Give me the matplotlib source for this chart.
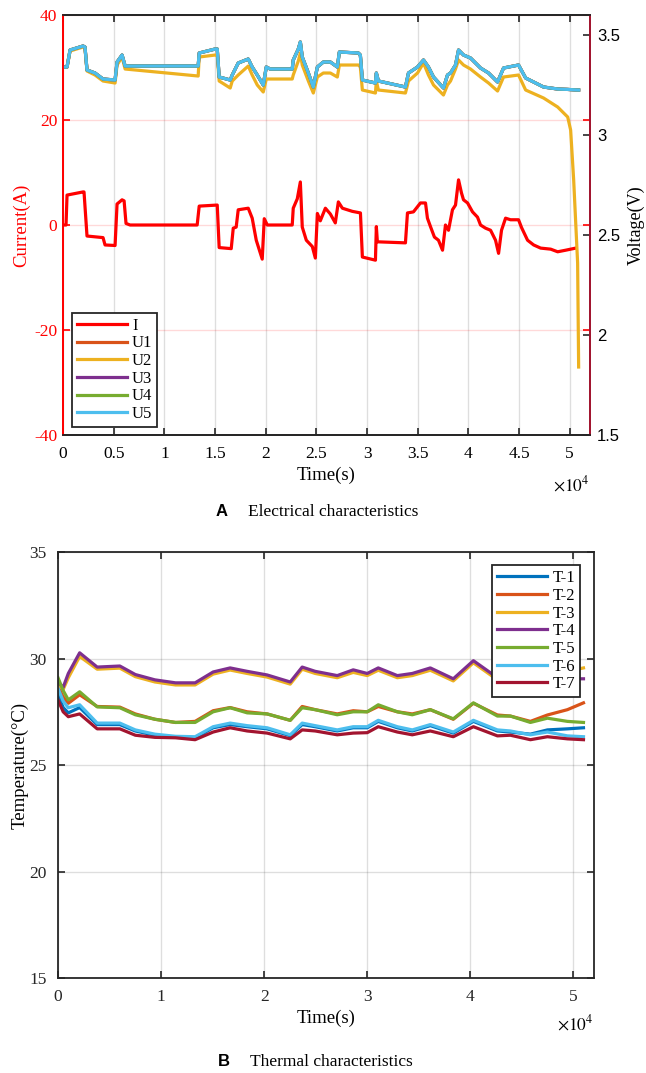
import matplotlib
matplotlib.use('Agg')
import matplotlib.pyplot as plt
from matplotlib.ticker import FuncFormatter

plt.rcParams['font.family'] = ['Liberation Serif', 'DejaVu Serif']
plt.rcParams['mathtext.fontset'] = 'stix'
plt.rcParams['axes.unicode_minus'] = False

# ---------------- data: electrical ----------------
t_I = [0, 300, 400, 1190, 1980, 2075, 2370, 3950, 4150, 5140,
       5335, 5830, 6030, 6220, 6620, 13240, 13440, 15220, 15410, 16600,
       16800, 17090, 17290, 18280, 18670, 19070, 19660, 19860, 20160, 22620,
       22720, 23120, 23420, 23610, 24010, 24600, 24900, 25100, 25390, 25890,
       26380, 26870, 27170, 27570, 28550, 29350, 29540, 30830, 30920, 31020,
       33790, 33990, 34580, 35270, 35770, 35960, 36260, 36650, 37050, 37450,
       37740, 38040, 38430, 38730, 39030, 39320, 39520, 39920, 40410, 40900,
       41200, 41690, 42190, 42680, 42980, 43270, 43670, 44160, 44950, 45250,
       45840, 46440, 47130, 48120, 48810, 49600, 50590]
I = [0, 0, 5.7, 6.0, 6.3, 6.3, -2.1, -2.4, -3.8, -3.9,
     4.0, 4.8, 4.6, 0.3, 0, 0, 3.6, 3.8, -4.3, -4.5,
     -0.6, -0.4, 2.9, 3.2, 1.3, -2.9, -6.5, 1.2, 0, 0,
     3.2, 5.0, 8.2, -0.4, -2.9, -4.1, -6.3, 2.2, 0.8, 3.2,
     2.1, 0.4, 4.4, 3.2, 2.6, 2.3, -6.1, -6.7, -0.3, -3.2,
     -3.4, 2.3, 2.5, 4.2, 4.2, 1.3, -0.3, -2.3, -2.9, -4.8,
     0, -1, 2.9, 3.8, 8.6, 6.1, 4.8, 4.2, 2.5, 1.5,
     0, -0.6, -1, -2.9, -5.4, -1, 1.3, 1.0, 1.0, -0.5,
     -2.9, -3.8, -4.4, -4.6, -5.1, -4.8, -4.4]

t_U = [0, 400, 700, 1980, 2170, 2370, 3160, 3950, 5140, 5335,
       5830, 6130, 13340, 13440, 15020, 15220, 15410, 16500, 16700, 17290,
       18280, 18670, 19170, 19760, 20060, 20450, 22620, 22720, 23220, 23420,
       23610, 24210, 24700, 25100, 25690, 26380, 27070, 27270, 29150, 29340,
       29540, 30830, 30920, 31120, 33790, 34090, 34980, 35570, 36060, 36560,
       37540, 37940, 38240, 38730, 39030, 39520, 40210, 41200, 41990, 42880,
       43470, 44950, 45650, 47420, 48810, 49800, 50090, 50390, 50780, 50880]
U5 = [3.34, 3.34, 3.425, 3.445, 3.44, 3.325, 3.31, 3.28, 3.275, 3.365,
      3.40, 3.345, 3.345, 3.41, 3.43, 3.43, 3.29, 3.275, 3.30, 3.36,
      3.38, 3.34, 3.30, 3.25, 3.34, 3.33, 3.33, 3.375, 3.43, 3.465,
      3.39, 3.31, 3.24, 3.34, 3.365, 3.365, 3.34, 3.415, 3.41, 3.40,
      3.275, 3.26, 3.31, 3.27, 3.24, 3.31, 3.34, 3.375, 3.34, 3.29,
      3.235, 3.30, 3.31, 3.35, 3.425, 3.40, 3.385, 3.335, 3.31, 3.265,
      3.335, 3.35, 3.285, 3.24, 3.23, 3.228, 3.227, 3.226, 3.225, 3.225]
U2 = [3.34, 3.34, 3.42, 3.44, 3.435, 3.32, 3.30, 3.27, 3.26, 3.35,
      3.39, 3.33, 3.295, 3.39, 3.40, 3.40, 3.27, 3.235, 3.27, 3.30,
      3.345, 3.30, 3.25, 3.215, 3.28, 3.28, 3.28, 3.30, 3.37, 3.41,
      3.35, 3.27, 3.21, 3.29, 3.31, 3.31, 3.29, 3.35, 3.35, 3.34,
      3.225, 3.21, 3.27, 3.225, 3.21, 3.27, 3.31, 3.36, 3.30, 3.25,
      3.20, 3.25, 3.27, 3.33, 3.375, 3.35, 3.33, 3.29, 3.26, 3.22,
      3.29, 3.30, 3.225, 3.185, 3.14, 3.09, 3.025, 2.775, 2.36, 1.84]
U1 = list(U5)
U3 = list(U5)
U4 = list(U5)

# ---------------- data: thermal ----------------
t_T = [0, 500, 1000, 2100, 3800, 6000, 7500, 9400, 11400, 13300,
       15050, 16700, 18350, 20290, 22530, 23690, 24950, 27090, 28640, 30000,
       31070, 32920, 34370, 36120, 38350, 40300, 42630, 43890, 45830, 47480,
       49420, 50980]
T1 = [28.3, 27.7, 27.45, 27.7, 26.9, 26.9, 26.6, 26.4, 26.3, 26.28,
      26.75, 26.9, 26.8, 26.7, 26.38, 26.9, 26.8, 26.6, 26.75, 26.75,
      27.05, 26.75, 26.6, 26.85, 26.5, 27.05, 26.6, 26.55, 26.45, 26.65, 26.7, 26.75]
T2 = [28.7, 28.2, 27.9, 28.3, 27.75, 27.72, 27.4, 27.15, 27.0, 27.05,
      27.55, 27.7, 27.5, 27.4, 27.1, 27.75, 27.6, 27.4, 27.55, 27.5,
      27.75, 27.5, 27.4, 27.6, 27.15, 27.9, 27.35, 27.3, 27.05, 27.35, 27.6, 27.92]
T3 = [28.8, 28.55, 29.1, 30.1, 29.5, 29.55, 29.15, 28.9, 28.76, 28.76,
      29.27, 29.46, 29.3, 29.13, 28.8, 29.5, 29.3, 29.1, 29.35, 29.2,
      29.45, 29.1, 29.2, 29.45, 28.95, 29.8, 29.0, 29.0, 29.1, 29.2, 29.4, 29.56]
T4 = [28.9, 28.65, 29.3, 30.27, 29.6, 29.65, 29.25, 29.0, 28.86, 28.86,
      29.37, 29.56, 29.4, 29.23, 28.9, 29.6, 29.4, 29.2, 29.47, 29.3,
      29.56, 29.2, 29.3, 29.56, 29.05, 29.9, 29.1, 29.0, 29.1, 29.1, 29.05, 29.05]
T5 = [29.1, 28.5, 28.06, 28.44, 27.73, 27.69, 27.36, 27.15, 27.0, 27.0,
      27.5, 27.69, 27.45, 27.4, 27.1, 27.69, 27.6, 27.36, 27.5, 27.5,
      27.83, 27.5, 27.36, 27.6, 27.17, 27.92, 27.3, 27.3, 27.0, 27.2, 27.05, 27.0]
T6 = [28.6, 28.0, 27.69, 27.83, 26.97, 26.97, 26.65, 26.45, 26.35, 26.33,
      26.8, 26.97, 26.85, 26.75, 26.42, 26.97, 26.85, 26.65, 26.8, 26.8,
      27.1, 26.8, 26.65, 26.9, 26.55, 27.1, 26.65, 26.6, 26.42, 26.55, 26.37, 26.33]
T7 = [28.06, 27.5, 27.27, 27.4, 26.7, 26.7, 26.4, 26.3, 26.28, 26.19,
      26.55, 26.75, 26.6, 26.5, 26.23, 26.65, 26.6, 26.42, 26.5, 26.52,
      26.8, 26.55, 26.42, 26.6, 26.33, 26.8, 26.37, 26.4, 26.19, 26.33, 26.23, 26.19]

top_xticks = [0, 5000, 10000, 15000, 20000, 25000, 30000, 35000, 40000, 45000, 50000]
bot_xticks = [0, 10000, 20000, 30000, 40000, 50000]
cur_ticks = [-40, -20, 0, 20, 40]
volt_ticks = [1.5, 2, 2.5, 3, 3.5]
temp_ticks = [15, 20, 25, 30, 35]

# ---------------- styling ----------------
RED = '#FF0000'
DARKRED = '#A2142F'
mcol = ['#0072BD', '#D95319', '#EDB120', '#7E2F8E', '#77AC30', '#4DBEEE', '#A2142F']
fs_tick = 12.5
fs_lab = 13.5
fs_leg = 12
fmt = FuncFormatter(lambda v, p: ('%g' % (v / 1e4)))

fig = plt.figure(figsize=(6.46, 10.73), dpi=100)

# ===== top panel =====
ax1 = fig.add_axes([0.0975, 0.5946, 0.8158, 0.3914])
ax2 = ax1.twinx()
ax1.set_xlim(0, 52000)
ax1.set_ylim(-40, 40)
ax2.set_ylim(1.5, 3.6)
ax1.set_xticks(top_xticks)
ax1.xaxis.set_major_formatter(fmt)
ax1.set_yticks(cur_ticks)
ax2.set_yticks(volt_ticks)
ax2.set_yticklabels(['%g' % v for v in volt_ticks])

ax1.set_axisbelow(True)
ax1.grid(axis='x', color='#262626', alpha=0.15, lw=1)
ax1.grid(axis='y', color=RED, alpha=0.15, lw=1)

lI, = ax1.plot(t_I, I, color=RED, lw=2.3, label='I')
hU = []
for vals, c, lab in zip([U1, U2, U3, U4, U5], mcol[1:6], ['U1', 'U2', 'U3', 'U4', 'U5']):
    h, = ax2.plot(t_U, vals, color=c, lw=2.3, label=lab)
    hU.append(h)

for a in (ax1, ax2):
    a.spines['top'].set_color('#262626')
    a.spines['bottom'].set_color('#262626')
    a.spines['left'].set_color(RED)
    a.spines['right'].set_color(DARKRED)
    for s in a.spines.values():
        s.set_linewidth(1.3)
ax1.tick_params(axis='x', direction='in', top=True, length=5, width=1.2,
                labelsize=fs_tick, color='#262626', pad=8)
ax1.tick_params(axis='y', direction='in', right=True, length=5, width=1.2,
                labelsize=fs_tick, colors=RED, pad=4)
ax2.tick_params(axis='y', direction='in', length=5, width=1.2,
                labelsize=fs_tick - 0.5, color='#262626', labelcolor='black', pad=5)
for lab in ax2.get_yticklabels():
    lab.set_fontfamily('Liberation Sans')

ax1.set_ylabel('Current(A)', color=RED, fontsize=fs_lab, labelpad=3)
ax2.set_ylabel('Voltage(V)', color='black', fontsize=13, labelpad=5)
ax1.set_xlabel('Time(s)', fontsize=fs_lab, labelpad=3)
ax1.text(1.0, -0.095, r'$\times10^{4}$', transform=ax1.transAxes, ha='right',
         va='top', fontsize=fs_tick)

leg = ax2.legend(handles=[lI] + hU, loc='lower left', bbox_to_anchor=(0.017, 0.019),
                 fontsize=fs_leg, frameon=True, fancybox=False, framealpha=1,
                 edgecolor='#262626', handlelength=3.0, handletextpad=0.3,
                 labelspacing=0.1, borderpad=0.3, borderaxespad=0)
leg.get_frame().set_linewidth(1.3)

# ===== bottom panel =====
ax3 = fig.add_axes([0.0898, 0.0885, 0.8297, 0.3970])
ax3.set_xlim(0, 52000)
ax3.set_ylim(15, 35)
ax3.set_xticks(bot_xticks)
ax3.xaxis.set_major_formatter(fmt)
ax3.set_yticks(temp_ticks)
ax3.set_axisbelow(True)
ax3.grid(True, color='#262626', alpha=0.15, lw=1)
for vals, c, lab in zip([T1, T2, T3, T4, T5, T6, T7], mcol,
                        ['T-1', 'T-2', 'T-3', 'T-4', 'T-5', 'T-6', 'T-7']):
    ax3.plot(t_T, vals, color=c, lw=2.3, label=lab)
for s in ax3.spines.values():
    s.set_color('#262626')
    s.set_linewidth(1.3)
ax3.tick_params(direction='in', top=True, right=True, length=5, width=1.2,
                labelsize=fs_tick, colors='#262626', pad=8)
ax3.set_ylabel('Temperature(°C)', fontsize=fs_lab, labelpad=1)
ax3.set_xlabel('Time(s)', fontsize=fs_lab, labelpad=3)
ax3.text(1.0, -0.085, r'$\times10^{4}$', transform=ax3.transAxes, ha='right',
         va='top', fontsize=fs_tick)
leg2 = ax3.legend(loc='upper right', bbox_to_anchor=(0.974, 0.969), fontsize=fs_leg,
                  frameon=True, fancybox=False, framealpha=1, edgecolor='#262626',
                  handlelength=3.0, handletextpad=0.3, labelspacing=0.1,
                  borderpad=0.3, borderaxespad=0)
leg2.get_frame().set_linewidth(1.3)

# ===== captions =====
fig.text(0.334, 1 - 512 / 1073, 'A', fontfamily='Liberation Sans', fontweight='bold',
         fontsize=12, ha='left', va='center')
fig.text(0.384, 1 - 512 / 1073, 'Electrical characteristics', fontsize=12.5,
         ha='left', va='center')
fig.text(0.337, 1 - 1062 / 1073, 'B', fontfamily='Liberation Sans', fontweight='bold',
         fontsize=12, ha='left', va='center')
fig.text(0.387, 1 - 1062 / 1073, 'Thermal characteristics', fontsize=12.5,
         ha='left', va='center')

fig.savefig('out.png', dpi=100)
